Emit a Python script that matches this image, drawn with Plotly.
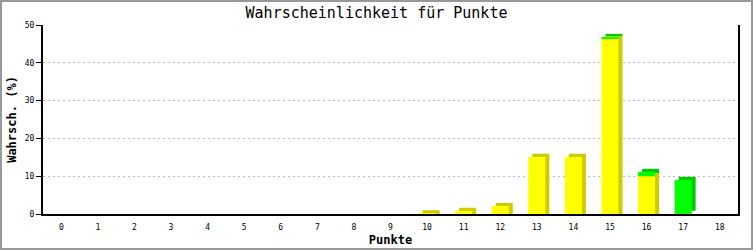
import plotly.graph_objects as go

punkte = list(range(0, 19))
gelb = [0, 0, 0, 0, 0, 0, 0, 0, 0, 0, 0.15, 0.8, 2.1, 15.1, 15.1, 46.3, 10.0, 0, 0]
gruen = [0, 0, 0, 0, 0, 0, 0, 0, 0, 0, 0, 0, 0, 0, 0, 0.5, 1.1, 9.0, 0]

W, H = 753, 250
L, R, T, B = 43, 15, 25, 36
pw, ph = W - L - R, H - T - B

depth_x = 0.11   # category units (~4 px)
depth_y = 0.85   # value units (~3 px)
bw = 0.465
mono = "DejaVu Sans Mono"

fig = go.Figure()
# 3D side/top faces (shadow bars)
fig.add_trace(go.Bar(x=[p + depth_x for p in punkte],
                     y=[g + depth_y if g > 0 else 0 for g in gelb], base=[0] * len(punkte),
                     width=bw, marker=dict(color="#cccc00", line=dict(width=0)), hoverinfo="skip"))
fig.add_trace(go.Bar(x=[p + depth_x for p in punkte], y=gruen, base=[g + depth_y for g in gelb],
                     width=bw, marker=dict(color="#00cc00", line=dict(width=0)), hoverinfo="skip"))
# front faces
fig.add_trace(go.Bar(x=punkte, y=gelb, base=[0] * len(punkte), width=bw,
                     marker=dict(color="#ffff00", line=dict(width=0))))
fig.add_trace(go.Bar(x=punkte, y=gruen, base=gelb, width=bw,
                     marker=dict(color="#00ff00", line=dict(width=0))))

fig.update_layout(
    width=W, height=H, barmode="overlay", showlegend=False,
    margin=dict(l=L, r=R, t=T, b=B, autoexpand=False),
    paper_bgcolor="white", plot_bgcolor="white",
    title=dict(text="Wahrscheinlichkeit für Punkte", x=0.5, xanchor="center", y=1 - 13 / H,
               yanchor="middle", font=dict(family=mono, size=15, color="black")),
    xaxis=dict(range=[-0.5, 18.5], tickmode="array", tickvals=punkte, ticktext=[str(p) for p in punkte],
               showgrid=False, zeroline=False, showline=True, linecolor="black", linewidth=2,
               ticks="outside", ticklen=4, tickcolor="rgba(0,0,0,0)", automargin=False,
               tickfont=dict(family=mono, size=8, color="black"),
               title=dict(text="<b>Punkte</b>", font=dict(family=mono, size=12, color="black"), standoff=5)),
    yaxis=dict(range=[0, 50], tickvals=[0, 10, 20, 30, 40, 50], showgrid=True,
               gridcolor="#bbbbbb", griddash="2px,3px", gridwidth=1, zeroline=False,
               showline=True, mirror=True, linecolor="black", linewidth=2, automargin=False,
               ticks="outside", ticklen=5, tickcolor="black", tickwidth=1,
               tickfont=dict(family=mono, size=8, color="black"),
               title=dict(text="<b>Wahrsch. (%)</b>", font=dict(family=mono, size=12, color="black"), standoff=6)),
)
fig.add_shape(type="rect", xref="paper", yref="paper",
              x0=(1 - L) / pw, x1=(W - 1 - L) / pw,
              y0=(T + ph - (H - 1)) / ph, y1=(T + ph - 1) / ph,
              line=dict(color="#999999", width=2), fillcolor="rgba(0,0,0,0)", layer="above")
fig.write_html("out.html")
